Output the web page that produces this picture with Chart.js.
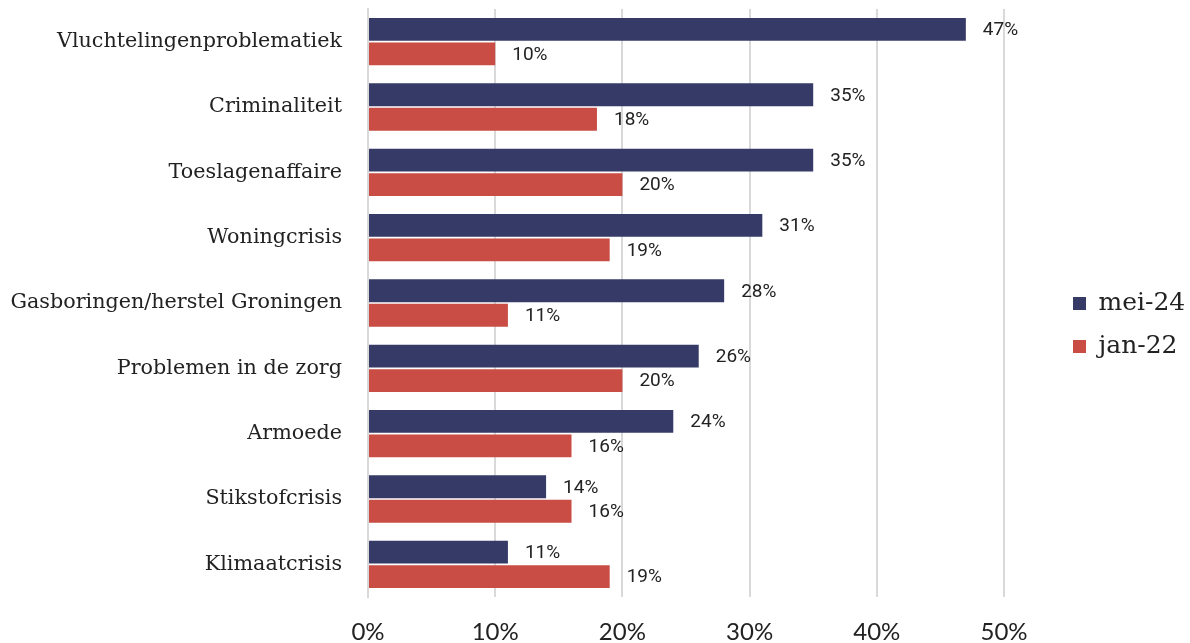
<!DOCTYPE html>
<html>
<head>
<meta charset="utf-8">
<script src="https://cdn.jsdelivr.net/npm/chart.js@4"></script>
<style>
  html, body { margin: 0; padding: 0; background: #fff; }
  #wrap { width: 1190px; height: 643px; position: relative; }
</style>
</head>
<body>
<div id="wrap"><canvas id="grafico"></canvas></div>
<script>
// Onderwerpen en percentages
const categorieen = [
    "Vluchtelingenproblematiek",
    "Criminaliteit",
    "Toeslagenaffaire",
    "Woningcrisis",
    "Gasboringen/herstel Groningen",
    "Problemen in de zorg",
    "Armoede",
    "Stikstofcrisis",
    "Klimaatcrisis"
];
const mei24 = [47, 35, 35, 31, 28, 26, 24, 14, 11];
const jan22 = [10, 18, 20, 19, 11, 20, 16, 16, 19];
const xTicks = [0, 10, 20, 30, 40, 50];

// Labels achter de balken
const waardeLabels = {
    id: "waardeLabels",
    afterDatasetsDraw(chart) {
        const ctx = chart.ctx;
        ctx.save();
        ctx.font = "19px Roboto";
        ctx.fillStyle = "#222";
        ctx.textBaseline = "middle";
        chart.data.datasets.forEach((ds, i) => {
            chart.getDatasetMeta(i).data.forEach((bar, j) => {
                ctx.fillText(Math.round(ds.data[j]) + "%", bar.x + 17, bar.y + 1);
            });
        });
        ctx.restore();
    }
};

// Legenda rechts plaatsen
const legendaPlek = {
    id: "legendaPlek",
    beforeInit(chart) {
        const lg = chart.legend;
        const fit = lg.fit.bind(lg);
        lg.fit = function () { fit(); this.width = 186; };
    },
    afterLayout(chart) {
        const lg = chart.legend;
        lg.left = 1073 - lg.options.labels.padding;
    }
};

const ctx = document.getElementById("grafico").getContext("2d");
const grafico = new Chart(ctx, {
    type: "bar",
    data: {
        labels: categorieen,
        datasets: [{
            label: "mei-24",
            data: mei24,
            backgroundColor: "#363a66",
            categoryPercentage: 0.75,
            barPercentage: 0.93
        }, {
            label: "jan-22",
            data: jan22,
            backgroundColor: "#c94d45",
            categoryPercentage: 0.75,
            barPercentage: 0.93
        }]
    },
    options: {
        indexAxis: "y",
        responsive: true,
        maintainAspectRatio: false,
        animation: false,
        layout: { padding: { top: 9, bottom: 2, left: 0, right: 0 } },
        scales: {
            x: {
                min: 0,
                max: 50,
                afterBuildTicks(axis) { axis.ticks = xTicks.map(v => ({ value: v })); },
                afterFit(axis) { axis.height = 44; },
                grid: { color: "#d9d9d9", lineWidth: 2, drawTicks: false },
                border: { display: false },
                ticks: {
                    padding: 21,
                    color: "#222",
                    font: { family: "Lato", size: 24 },
                    callback: v => v + "%"
                }
            },
            y: {
                afterFit(axis) {
                    axis.width = 368;
                    axis.paddingTop = 0;
                    axis.paddingBottom = 0;
                },
                grid: { display: false, drawTicks: false },
                border: { display: true, color: "#d9d9d9", width: 2 },
                ticks: {
                    padding: 26,
                    color: "#222",
                    font: { family: "DejaVu Serif", size: 20.7 }
                }
            }
        },
        plugins: {
            legend: {
                position: "right",
                labels: {
                    boxWidth: 13,
                    boxHeight: 13,
                    padding: 18,
                    color: "#222",
                    font: { family: "DejaVu Serif", size: 25 }
                }
            },
            tooltip: { enabled: false }
        }
    },
    plugins: [waardeLabels, legendaPlek]
});
</script>
</body>
</html>
